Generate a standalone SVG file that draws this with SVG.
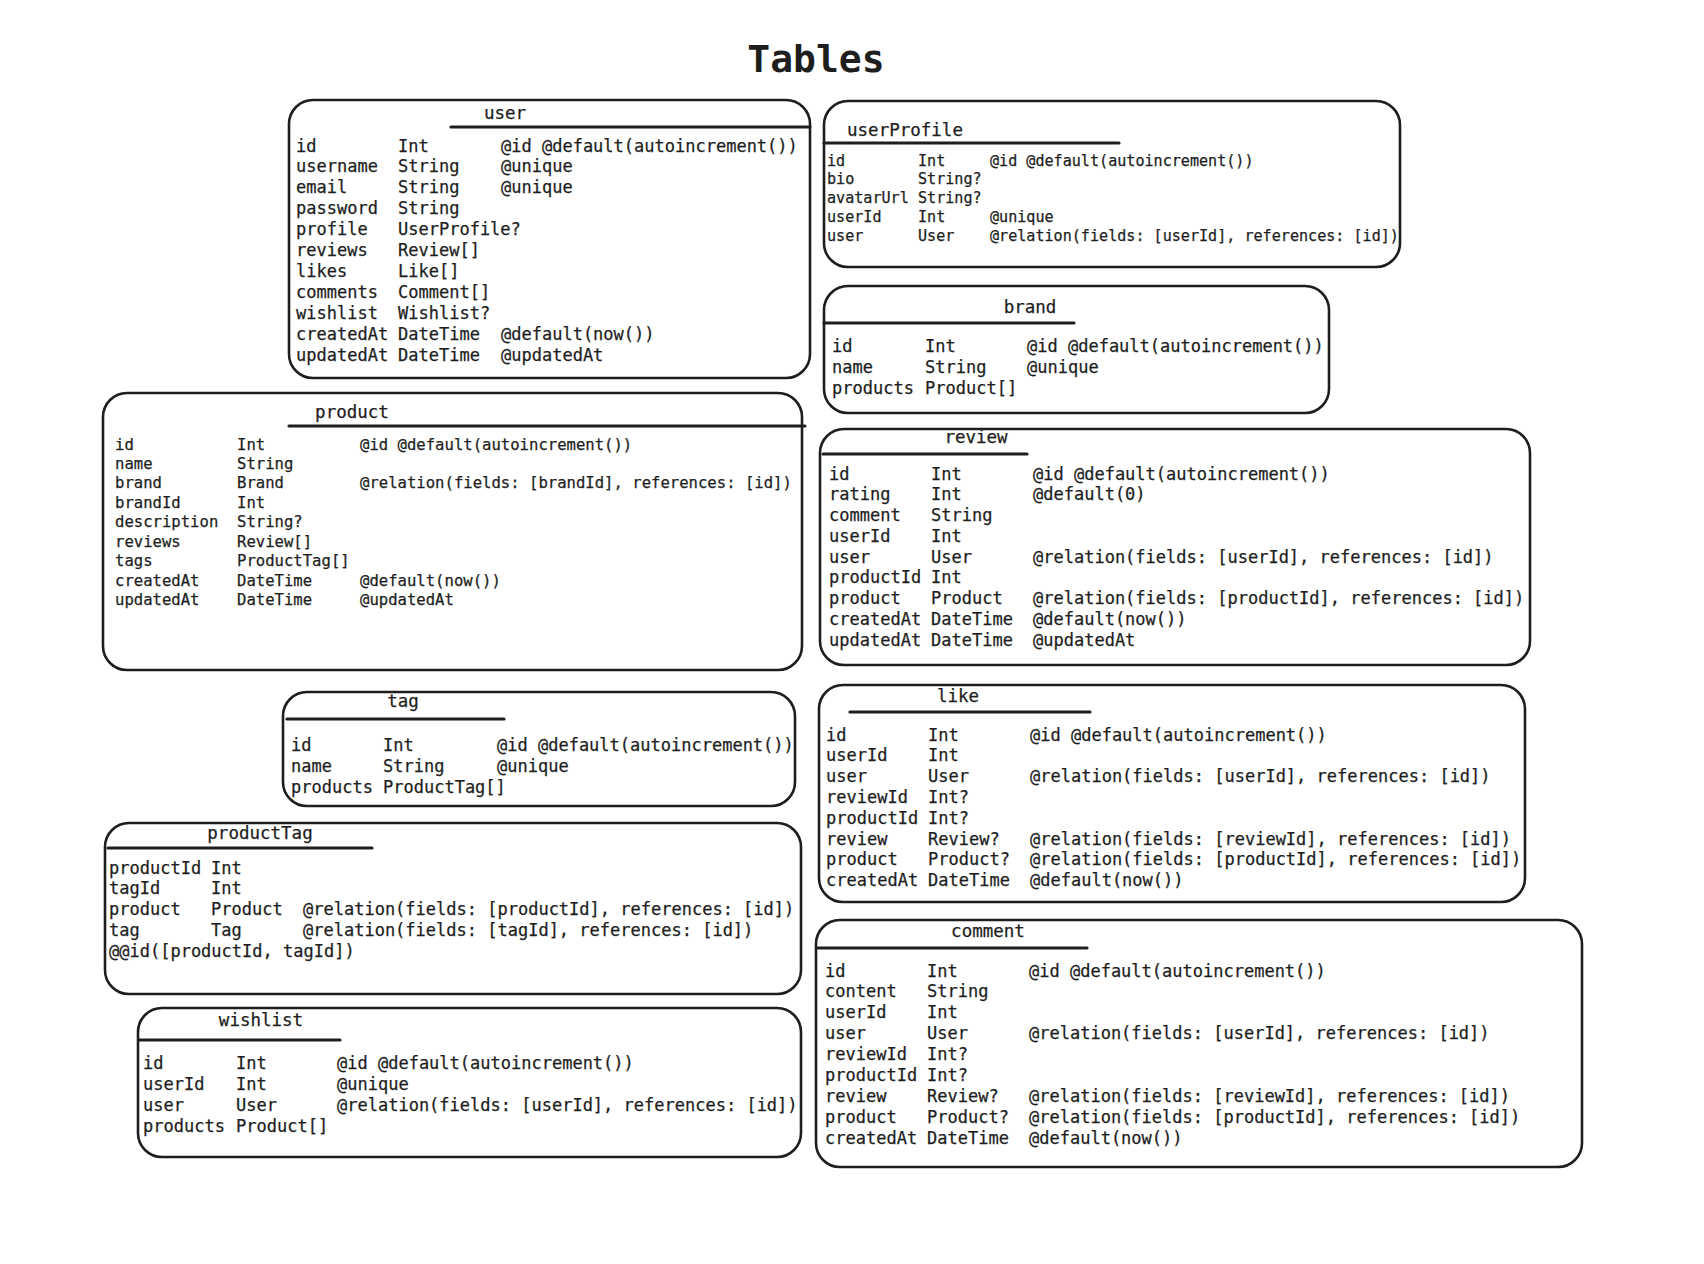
<svg xmlns="http://www.w3.org/2000/svg" width="1704" height="1264" viewBox="0 0 1704 1264">
<style>
  .box { fill: none; stroke: #1e1e1e; stroke-width: 2.6; stroke-linejoin: round; }
  .ul { stroke: #1e1e1e; stroke-width: 3.2; stroke-linecap: round; }
  text { font-family: "DejaVu Sans Mono", "Liberation Mono", monospace; fill: #1e1e1e; stroke: #1e1e1e; stroke-width: 0.25; }
  .title { font-size: 17.5px; text-anchor: middle; transform: translate(0px, -2px); }
  .f17 { font-size: 17px; transform: translate(0px, 1.5px); }
  .f156 { font-size: 15.6px; transform: translate(0px, 1.5px); }
  .f151 { font-size: 15.1px; transform: translate(0px, 1.5px); }
  .head { font-size: 38px; font-weight: bold; text-anchor: middle; stroke-width: 0; }
</style>
<rect width="1704" height="1264" fill="#ffffff"/>
<text class="head" x="816" y="72">Tables</text>

<g id="connectors"></g>

<g id="user">
  <rect class="box" x="289" y="100" width="521" height="278" rx="24"/>
  <text class="title" x="505" y="121">user</text>
  <line class="ul" x1="451" y1="127" x2="810" y2="127"/>
  <text class="f17">
    <tspan x="296" y="150">id</tspan><tspan x="398" y="150">Int</tspan><tspan x="501" y="150">@id @default(autoincrement())</tspan>
    <tspan x="296" y="170.9">username</tspan><tspan x="398" y="170.9">String</tspan><tspan x="501" y="170.9">@unique</tspan>
    <tspan x="296" y="191.8">email</tspan><tspan x="398" y="191.8">String</tspan><tspan x="501" y="191.8">@unique</tspan>
    <tspan x="296" y="212.7">password</tspan><tspan x="398" y="212.7">String</tspan>
    <tspan x="296" y="233.6">profile</tspan><tspan x="398" y="233.6">UserProfile?</tspan>
    <tspan x="296" y="254.5">reviews</tspan><tspan x="398" y="254.5">Review[]</tspan>
    <tspan x="296" y="275.4">likes</tspan><tspan x="398" y="275.4">Like[]</tspan>
    <tspan x="296" y="296.3">comments</tspan><tspan x="398" y="296.3">Comment[]</tspan>
    <tspan x="296" y="317.2">wishlist</tspan><tspan x="398" y="317.2">Wishlist?</tspan>
    <tspan x="296" y="338.1">createdAt</tspan><tspan x="398" y="338.1">DateTime</tspan><tspan x="501" y="338.1">@default(now())</tspan>
    <tspan x="296" y="359">updatedAt</tspan><tspan x="398" y="359">DateTime</tspan><tspan x="501" y="359">@updatedAt</tspan>
  </text>
</g>

<g id="userProfile">
  <rect class="box" x="824" y="101" width="576" height="166" rx="24"/>
  <text class="title" x="905" y="138">userProfile</text>
  <line class="ul" x1="824" y1="143" x2="1119" y2="143"/>
  <text class="f151">
    <tspan x="827" y="164">id</tspan><tspan x="918" y="164">Int</tspan><tspan x="990" y="164">@id @default(autoincrement())</tspan>
    <tspan x="827" y="182.75">bio</tspan><tspan x="918" y="182.75">String?</tspan>
    <tspan x="827" y="201.5">avatarUrl</tspan><tspan x="918" y="201.5">String?</tspan>
    <tspan x="827" y="220.25">userId</tspan><tspan x="918" y="220.25">Int</tspan><tspan x="990" y="220.25">@unique</tspan>
    <tspan x="827" y="239">user</tspan><tspan x="918" y="239">User</tspan><tspan x="990" y="239">@relation(fields: [userId], references: [id])</tspan>
  </text>
</g>

<g id="brand">
  <rect class="box" x="824" y="286" width="505" height="127" rx="24"/>
  <text class="title" x="1030" y="315">brand</text>
  <line class="ul" x1="824" y1="323" x2="1074" y2="323"/>
  <text class="f17">
    <tspan x="832" y="350">id</tspan><tspan x="925" y="350">Int</tspan><tspan x="1027" y="350">@id @default(autoincrement())</tspan>
    <tspan x="832" y="371.2">name</tspan><tspan x="925" y="371.2">String</tspan><tspan x="1027" y="371.2">@unique</tspan>
    <tspan x="832" y="392.4">products</tspan><tspan x="925" y="392.4">Product[]</tspan>
  </text>
</g>

<g id="product">
  <rect class="box" x="103" y="393" width="699" height="277" rx="24"/>
  <text class="title" x="352" y="420">product</text>
  <line class="ul" x1="289" y1="426" x2="805" y2="426"/>
  <text class="f156">
    <tspan x="115" y="448">id</tspan><tspan x="237" y="448">Int</tspan><tspan x="360" y="448">@id @default(autoincrement())</tspan>
    <tspan x="115" y="467.45">name</tspan><tspan x="237" y="467.45">String</tspan>
    <tspan x="115" y="486.9">brand</tspan><tspan x="237" y="486.9">Brand</tspan><tspan x="360" y="486.9">@relation(fields: [brandId], references: [id])</tspan>
    <tspan x="115" y="506.35">brandId</tspan><tspan x="237" y="506.35">Int</tspan>
    <tspan x="115" y="525.8">description</tspan><tspan x="237" y="525.8">String?</tspan>
    <tspan x="115" y="545.25">reviews</tspan><tspan x="237" y="545.25">Review[]</tspan>
    <tspan x="115" y="564.7">tags</tspan><tspan x="237" y="564.7">ProductTag[]</tspan>
    <tspan x="115" y="584.15">createdAt</tspan><tspan x="237" y="584.15">DateTime</tspan><tspan x="360" y="584.15">@default(now())</tspan>
    <tspan x="115" y="603.6">updatedAt</tspan><tspan x="237" y="603.6">DateTime</tspan><tspan x="360" y="603.6">@updatedAt</tspan>
  </text>
</g>

<g id="review">
  <rect class="box" x="820" y="429" width="710" height="236" rx="24"/>
  <text class="title" x="976" y="445">review</text>
  <line class="ul" x1="823" y1="454" x2="1027" y2="454"/>
  <text class="f17">
    <tspan x="829" y="478">id</tspan><tspan x="931" y="478">Int</tspan><tspan x="1033" y="478">@id @default(autoincrement())</tspan>
    <tspan x="829" y="498.75">rating</tspan><tspan x="931" y="498.75">Int</tspan><tspan x="1033" y="498.75">@default(0)</tspan>
    <tspan x="829" y="519.5">comment</tspan><tspan x="931" y="519.5">String</tspan>
    <tspan x="829" y="540.25">userId</tspan><tspan x="931" y="540.25">Int</tspan>
    <tspan x="829" y="561">user</tspan><tspan x="931" y="561">User</tspan><tspan x="1033" y="561">@relation(fields: [userId], references: [id])</tspan>
    <tspan x="829" y="581.75">productId</tspan><tspan x="931" y="581.75">Int</tspan>
    <tspan x="829" y="602.5">product</tspan><tspan x="931" y="602.5">Product</tspan><tspan x="1033" y="602.5">@relation(fields: [productId], references: [id])</tspan>
    <tspan x="829" y="623.25">createdAt</tspan><tspan x="931" y="623.25">DateTime</tspan><tspan x="1033" y="623.25">@default(now())</tspan>
    <tspan x="829" y="644">updatedAt</tspan><tspan x="931" y="644">DateTime</tspan><tspan x="1033" y="644">@updatedAt</tspan>
  </text>
</g>

<g id="tag">
  <rect class="box" x="283" y="692" width="512" height="114" rx="24"/>
  <text class="title" x="403" y="709">tag</text>
  <line class="ul" x1="287" y1="719" x2="504" y2="719"/>
  <text class="f17">
    <tspan x="291" y="749">id</tspan><tspan x="383" y="749">Int</tspan><tspan x="497" y="749">@id @default(autoincrement())</tspan>
    <tspan x="291" y="770.2">name</tspan><tspan x="383" y="770.2">String</tspan><tspan x="497" y="770.2">@unique</tspan>
    <tspan x="291" y="791.4">products</tspan><tspan x="383" y="791.4">ProductTag[]</tspan>
  </text>
</g>

<g id="productTag">
  <rect class="box" x="105" y="823" width="696" height="171" rx="24"/>
  <text class="title" x="260" y="841">productTag</text>
  <line class="ul" x1="108" y1="848" x2="372" y2="848"/>
  <text class="f17">
    <tspan x="109" y="872">productId</tspan><tspan x="211" y="872">Int</tspan>
    <tspan x="109" y="892.9">tagId</tspan><tspan x="211" y="892.9">Int</tspan>
    <tspan x="109" y="913.8">product</tspan><tspan x="211" y="913.8">Product</tspan><tspan x="303" y="913.8">@relation(fields: [productId], references: [id])</tspan>
    <tspan x="109" y="934.7">tag</tspan><tspan x="211" y="934.7">Tag</tspan><tspan x="303" y="934.7">@relation(fields: [tagId], references: [id])</tspan>
    <tspan x="109" y="955.6">@@id([productId, tagId])</tspan>
  </text>
</g>

<g id="wishlist">
  <rect class="box" x="138" y="1008" width="663" height="149" rx="24"/>
  <text class="title" x="261" y="1028">wishlist</text>
  <line class="ul" x1="139" y1="1040" x2="340" y2="1040"/>
  <text class="f17">
    <tspan x="143" y="1067">id</tspan><tspan x="236" y="1067">Int</tspan><tspan x="337" y="1067">@id @default(autoincrement())</tspan>
    <tspan x="143" y="1088">userId</tspan><tspan x="236" y="1088">Int</tspan><tspan x="337" y="1088">@unique</tspan>
    <tspan x="143" y="1109">user</tspan><tspan x="236" y="1109">User</tspan><tspan x="337" y="1109">@relation(fields: [userId], references: [id])</tspan>
    <tspan x="143" y="1130">products</tspan><tspan x="236" y="1130">Product[]</tspan>
  </text>
</g>

<g id="like">
  <rect class="box" x="819" y="685" width="706" height="217" rx="24"/>
  <text class="title" x="958" y="704">like</text>
  <line class="ul" x1="850" y1="712" x2="1090" y2="712"/>
  <text class="f17">
    <tspan x="826" y="739">id</tspan><tspan x="928" y="739">Int</tspan><tspan x="1030" y="739">@id @default(autoincrement())</tspan>
    <tspan x="826" y="759.8">userId</tspan><tspan x="928" y="759.8">Int</tspan>
    <tspan x="826" y="780.6">user</tspan><tspan x="928" y="780.6">User</tspan><tspan x="1030" y="780.6">@relation(fields: [userId], references: [id])</tspan>
    <tspan x="826" y="801.4">reviewId</tspan><tspan x="928" y="801.4">Int?</tspan>
    <tspan x="826" y="822.2">productId</tspan><tspan x="928" y="822.2">Int?</tspan>
    <tspan x="826" y="843">review</tspan><tspan x="928" y="843">Review?</tspan><tspan x="1030" y="843">@relation(fields: [reviewId], references: [id])</tspan>
    <tspan x="826" y="863.8">product</tspan><tspan x="928" y="863.8">Product?</tspan><tspan x="1030" y="863.8">@relation(fields: [productId], references: [id])</tspan>
    <tspan x="826" y="884.6">createdAt</tspan><tspan x="928" y="884.6">DateTime</tspan><tspan x="1030" y="884.6">@default(now())</tspan>
  </text>
</g>

<g id="comment">
  <rect class="box" x="816" y="920" width="766" height="247" rx="24"/>
  <text class="title" x="988" y="939">comment</text>
  <line class="ul" x1="818" y1="948" x2="1087" y2="948"/>
  <text class="f17">
    <tspan x="825" y="975">id</tspan><tspan x="927" y="975">Int</tspan><tspan x="1029" y="975">@id @default(autoincrement())</tspan>
    <tspan x="825" y="995.9">content</tspan><tspan x="927" y="995.9">String</tspan>
    <tspan x="825" y="1016.8">userId</tspan><tspan x="927" y="1016.8">Int</tspan>
    <tspan x="825" y="1037.7">user</tspan><tspan x="927" y="1037.7">User</tspan><tspan x="1029" y="1037.7">@relation(fields: [userId], references: [id])</tspan>
    <tspan x="825" y="1058.6">reviewId</tspan><tspan x="927" y="1058.6">Int?</tspan>
    <tspan x="825" y="1079.5">productId</tspan><tspan x="927" y="1079.5">Int?</tspan>
    <tspan x="825" y="1100.4">review</tspan><tspan x="927" y="1100.4">Review?</tspan><tspan x="1029" y="1100.4">@relation(fields: [reviewId], references: [id])</tspan>
    <tspan x="825" y="1121.3">product</tspan><tspan x="927" y="1121.3">Product?</tspan><tspan x="1029" y="1121.3">@relation(fields: [productId], references: [id])</tspan>
    <tspan x="825" y="1142.2">createdAt</tspan><tspan x="927" y="1142.2">DateTime</tspan><tspan x="1029" y="1142.2">@default(now())</tspan>
  </text>
</g>
</svg>
